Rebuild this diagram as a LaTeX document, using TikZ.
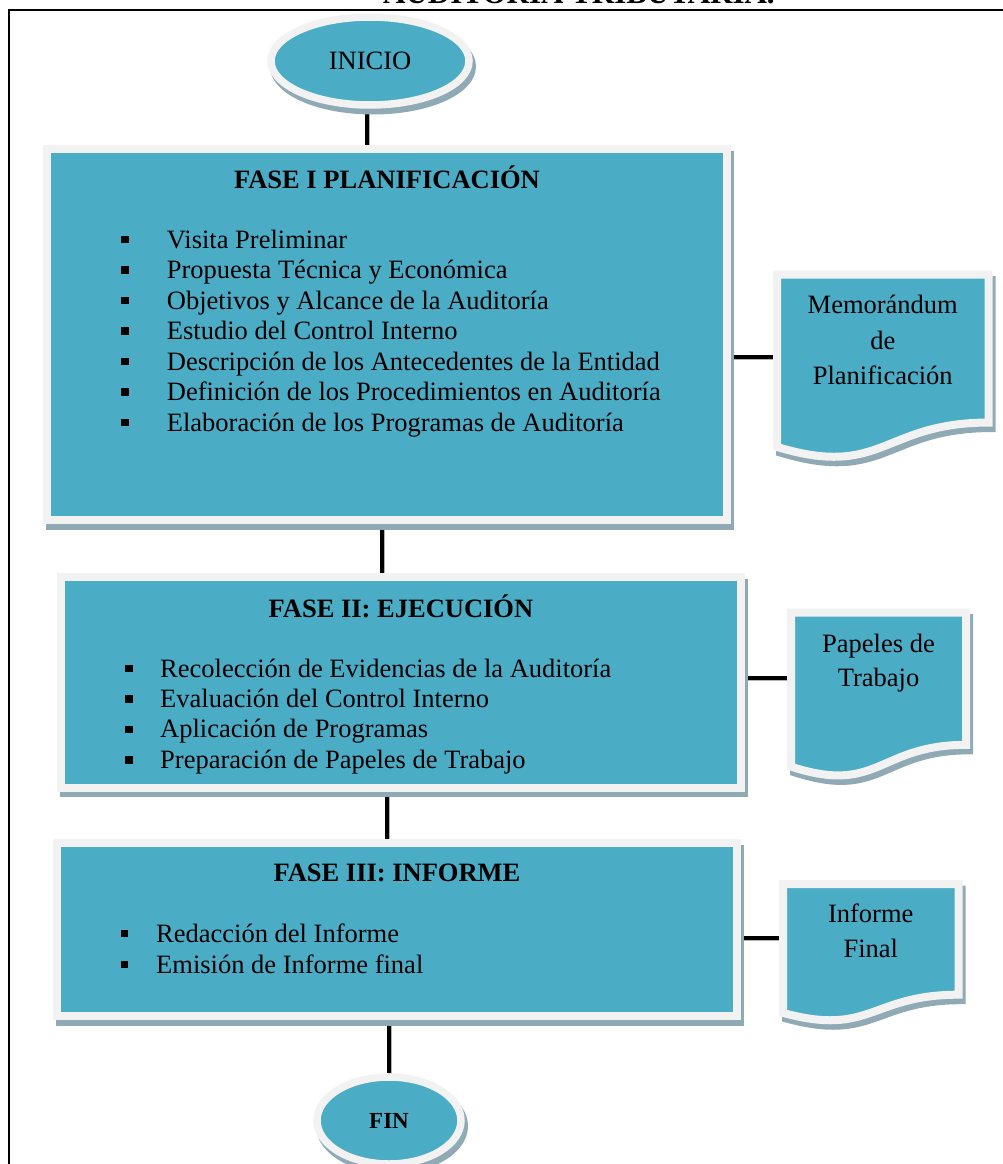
\documentclass[tikz,border=0pt]{standalone}
\usepackage{fontspec}
\setmainfont{Liberation Serif}
\usetikzlibrary{shapes.geometric}
\definecolor{tealc}{RGB}{75,172,198}
\definecolor{bordc}{RGB}{242,242,242}
\definecolor{shadowc}{RGB}{143,170,180}
\pgfdeclarelayer{bg}
\pgfsetlayers{bg,main}
\newcommand\sqb[1]{\llap{\rule[4.7pt]{7.5pt}{7.5pt}\hspace{#1}}}
\newcommand\docshape[5]{%
  \path[fill=shadowc, draw=shadowc, line width=8pt, shift={(3,5.5)}]
    (#2,#3) -- ({#2+#4},#3) -- ({#2+#4},{#3+0.802*#5})
    .. controls ({#2+0.5*#4},{#3+0.802*#5}) and ({#2+0.5*#4},{#3+1.1075*#5}) .. (#2,{#3+0.934*#5}) -- cycle;
  \path[fill=tealc, draw=bordc, line width=8pt]
    (#2,#3) -- ({#2+#4},#3) -- ({#2+#4},{#3+0.802*#5})
    .. controls ({#2+0.5*#4},{#3+0.802*#5}) and ({#2+0.5*#4},{#3+1.1075*#5}) .. (#2,{#3+0.934*#5}) -- cycle;
  \node[rectangle, inner sep=0pt, minimum width=#4pt, minimum height=#5pt, anchor=north west] (#1) at (#2,#3) {};
}
\begin{document}
\begin{tikzpicture}[x=1pt,y=-1pt,
  shd/.style={preaction={fill=shadowc, draw=shadowc, line width=8pt, transform canvas={shift={(3pt,-5.5pt)}}}},
  phase/.style={shd, rectangle, draw=bordc, fill=tealc, line width=8pt, inner sep=0pt},
  term/.style={shd, ellipse, draw=bordc, fill=tealc, line width=7.5pt, inner sep=0pt, font=\fontsize{26.5}{30}\selectfont},
  ttl/.style={anchor=base, font=\bfseries\fontsize{26.5}{30}\selectfont, inner sep=0pt},
  item/.style={anchor=base west, font=\fontsize{26.5}{30}\selectfont, inner sep=0pt},
  dtxt/.style={anchor=base, font=\fontsize{26.5}{30}\selectfont, inner sep=0pt},
  conn/.style={line width=3.5pt, draw=black, preaction={draw=black!30, line width=3.5pt, transform canvas={shift={(1pt,-1.5pt)}}}}
]
\useasboundingbox (0,0) rectangle (1003,1164);

% heading (cut off at the top)
\node[anchor=base, font=\bfseries\fontsize{31}{36}\selectfont, inner sep=0pt] (head) at (579,3.5) {AUDITORÍA TRIBUTARIA.};

% terminals and phases
\node[term, minimum width=198pt, minimum height=88pt] (inicio) at (370,61) {INICIO\hspace{16pt}};
\node[phase, minimum width=679.5pt, minimum height=371pt] (f1) at (386.75,334.5) {};
\node[phase, minimum width=680pt, minimum height=210.5pt] (f2) at (401,682.25) {};
\node[phase, minimum width=680pt, minimum height=173pt] (f3) at (397,929.5) {};
\node[term, minimum width=144pt, minimum height=87pt, font=\bfseries\fontsize{23}{27}\selectfont] (fin) at (389,1120.5) {FIN};

% documents
\docshape{d1}{777}{274.5}{211.5}{184.6}
\docshape{d2}{791}{612.5}{175}{165}
\docshape{d3}{783}{884}{175.5}{138}

% phase texts
\node[ttl] (t1) at (387,188) {FASE I PLANIFICACIÓN};
\foreach \t [count=\i] in {Visita Preliminar, Propuesta Técnica y Económica, Objetivos y Alcance de la Auditoría, Estudio del Control Interno, Descripción de los Antecedentes de la Entidad, Definición de los Procedimientos en Auditoría, Elaboración de los Programas de Auditoría}
  \node[item] (a\i) at (166.7,{248+30.5*(\i-1)}) {\sqb{38.4pt}\t};

\node[ttl] (t2) at (401,617) {FASE II: EJECUCIÓN};
\foreach \t [count=\i] in {Recolección de Evidencias de la Auditoría, Evaluación del Control Interno, Aplicación de Programas, Preparación de Papeles de Trabajo}
  \node[item] (b\i) at (160,{677+30.4*(\i-1)}) {\sqb{27.7pt}\t};

\node[ttl] (t3) at (397,881) {FASE III: INFORME};
\foreach \t [count=\i] in {Redacción del Informe, Emisión de Informe final}
  \node[item] (c\i) at (156,{942+31*(\i-1)}) {\sqb{28pt}\t};

% document texts
\node[dtxt] (m1) at (882.75,313) {Memorándum};
\node[dtxt] (m2) at (882.75,349) {de};
\node[dtxt] (m3) at (882.75,384) {Planificación};
\node[dtxt] (p1) at (878.5,652) {Papeles de};
\node[dtxt] (p2) at (878.5,686) {Trabajo};
\node[dtxt] (r1) at (870.75,922) {Informe};
\node[dtxt] (r2) at (870.75,957) {Final};

\coordinate (d1in) at (777,357);
\coordinate (d2in) at (791,678);
\coordinate (d3in) at (783,938);

\begin{pgfonlayer}{bg}
  \draw[line width=2pt] (9,1180) -- (9,10) -- (1020,10);
  \draw[conn] ([xshift=-3pt]inicio.south) -- ([xshift=-3pt]inicio.south |- f1.north);
  \draw[conn] ([xshift=-4.75pt]f1.south) -- ([xshift=-4.75pt]f1.south |- f2.north);
  \draw[conn] ([xshift=-14pt]f2.south) -- ([xshift=-14pt]f2.south |- f3.north);
  \draw[conn] (fin.north |- f3.south) -- (fin.north);
  \draw[conn] (d1in -| f1.east) -- (d1in);
  \draw[conn] (d2in -| f2.east) -- (d2in);
  \draw[conn] (d3in -| f3.east) -- (d3in);
\end{pgfonlayer}
\end{tikzpicture}
\end{document}
